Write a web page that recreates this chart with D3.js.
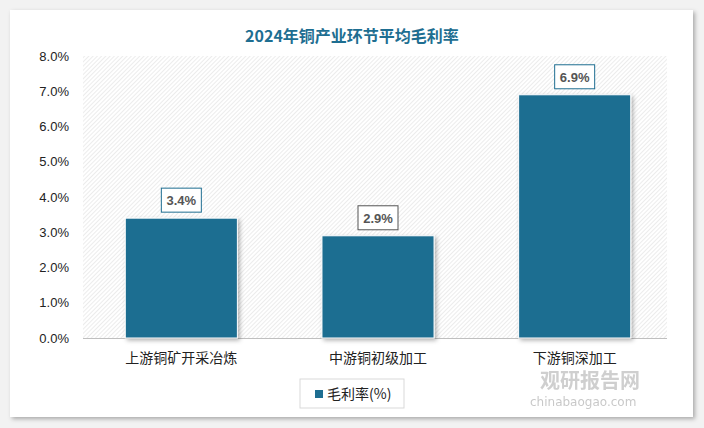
<!DOCTYPE html>
<html><head><meta charset="utf-8">
<script src="https://cdn.jsdelivr.net/npm/d3@7"></script>
<style>body{margin:0;background:#f2f2f2;font-family:"Noto Sans CJK SC","Liberation Sans",sans-serif}</style>
</head><body>
<svg id="chart" width="704" height="428"></svg>
<script>
// data
var categories = ["上游铜矿开采冶炼", "中游铜初级加工", "下游铜深加工"];
var margins = [3.4, 2.9, 6.9];
var yTicks = [0, 1, 2, 3, 4, 5, 6, 7, 8];
var seriesName = "毛利率(%)";
var labelBorders = ["#1e6e91", "#555555", "#1e6e91"];

var svg = d3.select("#chart");
var defs = svg.append("defs");
var pat = defs.append("pattern").attr("id", "hatch").attr("patternUnits", "userSpaceOnUse")
  .attr("width", 3).attr("height", 3).attr("patternTransform", "rotate(45)");
pat.append("rect").attr("width", 3).attr("height", 3).attr("fill", "#fff");
pat.append("line").attr("x1", 0).attr("y1", 0).attr("x2", 0).attr("y2", 3)
  .attr("stroke", "#d9d9d9").attr("stroke-width", 1);
var sh = defs.append("filter").attr("id", "sh").attr("x", "-10%").attr("y", "-10%").attr("width", "120%").attr("height", "130%");
sh.append("feDropShadow").attr("dx", 2).attr("dy", 2).attr("stdDeviation", 2).attr("flood-opacity", 0.3);

// card
svg.append("rect").attr("x", 10).attr("y", 10).attr("width", 683).attr("height", 407)
  .attr("fill", "#fff").attr("filter", "url(#sh)");

svg.append("text").attr("x", 352).attr("y", 42).attr("text-anchor", "middle")
  .attr("font-size", 16).attr("font-weight", "bold").attr("fill", "#1e6e91")
  .text("2024年铜产业环节平均毛利率");

var x = d3.scaleBand().domain(categories).range([83, 673]).paddingInner(0.43).paddingOuter(0.215);
var y = d3.scaleLinear().domain([0, 8]).range([338, 56]);

svg.append("rect").attr("x", 83).attr("y", 56).attr("width", 584).attr("height", 282).attr("fill", "url(#hatch)");

var yAxis = svg.append("g").attr("transform", "translate(83,0)")
  .call(d3.axisLeft(y).tickValues(yTicks).tickFormat(function(d){ return d.toFixed(1) + "%"; }).tickSize(0).tickPadding(14));
yAxis.select(".domain").remove();
yAxis.selectAll("text").attr("font-size", 13).attr("fill", "#222").attr("font-family", "Liberation Sans, sans-serif");

svg.append("line").attr("x1", 83).attr("x2", 667).attr("y1", 338.5).attr("y2", 338.5).attr("stroke", "#bfbfbf");

svg.selectAll(".bar").data(margins).enter().append("rect")
  .attr("x", function(d, i){ return x(categories[i]); })
  .attr("y", function(d){ return y(d); })
  .attr("width", x.bandwidth()).attr("height", function(d){ return y(0) - y(d); })
  .attr("fill", "#1e6e91").attr("stroke", "#fff").attr("stroke-width", 1).attr("filter", "url(#sh)");

var lab = svg.selectAll(".lab").data(margins).enter().append("g")
  .attr("transform", function(d, i){ return "translate(" + (x(categories[i]) + x.bandwidth() / 2) + "," + (y(d) - 18) + ")"; });
lab.append("rect").attr("x", -20).attr("y", -12).attr("width", 40).attr("height", 24)
  .attr("fill", "#fff").attr("stroke", function(d, i){ return labelBorders[i]; });
lab.append("text").attr("text-anchor", "middle").attr("dy", 5).attr("font-size", 13).attr("font-weight", "bold")
  .attr("fill", "#555").attr("font-family", "Liberation Sans, sans-serif").text(function(d){ return d.toFixed(1) + "%"; });

svg.selectAll(".cat").data(categories).enter().append("text")
  .attr("x", function(d){ return x(d) + x.bandwidth() / 2; }).attr("y", 363)
  .attr("text-anchor", "middle").attr("font-size", 14).attr("fill", "#222").text(function(d){ return d; });

// watermark
svg.append("text").attr("x", 540).attr("y", 388).attr("font-size", 20).attr("font-weight", "bold")
  .attr("fill", "#bbb").attr("opacity", 0.7).text("观研报告网");
svg.append("text").attr("x", 530).attr("y", 406).attr("font-size", 12)
  .attr("fill", "#bbb").attr("opacity", 0.8).attr("font-family", "DejaVu Sans, sans-serif").text("chinabaogao.com");

// legend
var lg = svg.append("g").attr("transform", "translate(300,379)");
lg.append("rect").attr("width", 104).attr("height", 29).attr("fill", "#fff").attr("stroke", "#d9d9d9");
lg.append("rect").attr("x", 15).attr("y", 11).attr("width", 8).attr("height", 8).attr("fill", "#1e6e91");
lg.append("text").attr("x", 27).attr("y", 20).attr("font-size", 14).attr("fill", "#222").text(seriesName);
</script>
</body></html>
